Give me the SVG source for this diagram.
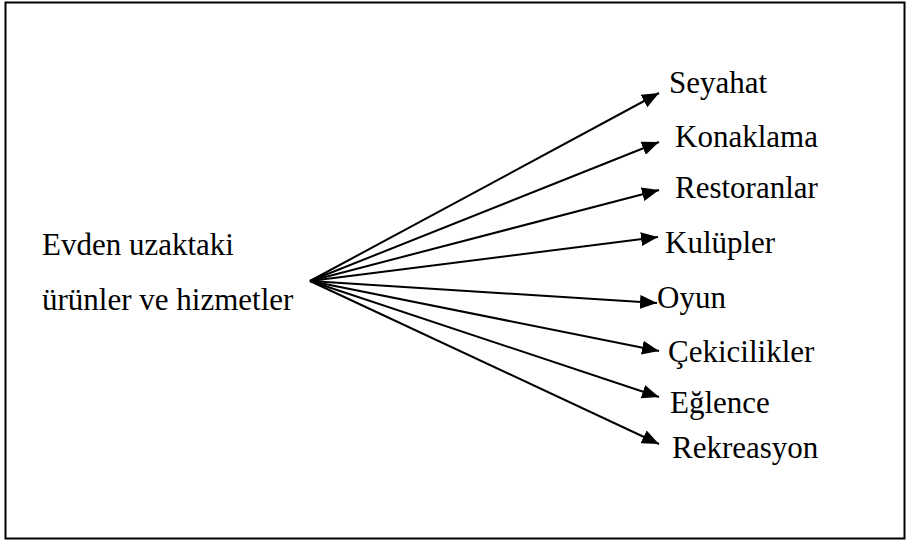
<svg xmlns="http://www.w3.org/2000/svg" width="907" height="541" viewBox="0 0 907 541">
  <defs>
    <marker id="arrow" markerUnits="userSpaceOnUse" markerWidth="18" markerHeight="14" viewBox="0 0 18 14" refX="17" refY="7" orient="auto">
      <path d="M0,0 L17,7 L0,14 Z" fill="#000"/>
    </marker>
  </defs>

  <!-- frame -->
  <rect x="5.5" y="2.5" width="899" height="536" fill="#fff" stroke="#000" stroke-width="2"/>

  <!-- connectors fanning out from one point -->
  <g id="connectors" stroke="#000" stroke-width="2" fill="none" marker-end="url(#arrow)">
    <line x1="310" y1="281" x2="659" y2="93"/>
    <line x1="310" y1="281" x2="659" y2="142"/>
    <line x1="310" y1="281" x2="659" y2="190"/>
    <line x1="310" y1="281" x2="658" y2="237"/>
    <line x1="310" y1="281" x2="657" y2="303"/>
    <line x1="310" y1="281" x2="659" y2="351"/>
    <line x1="310" y1="281" x2="659" y2="397"/>
    <line x1="310" y1="281" x2="659" y2="444"/>
  </g>

  <!-- source -->
  <g id="source">
    <text x="42" y="255" font-family="Liberation Serif" font-size="31">Evden uzaktaki</text>
    <text x="42" y="310" font-family="Liberation Serif" font-size="31">ürünler ve hizmetler</text>
  </g>

  <!-- targets -->
  <g id="seyahat"><text x="669" y="93" font-family="Liberation Serif" font-size="31">Seyahat</text></g>
  <g id="konaklama"><text x="675" y="147" font-family="Liberation Serif" font-size="31">Konaklama</text></g>
  <g id="restoranlar"><text x="675" y="198" font-family="Liberation Serif" font-size="31">Restoranlar</text></g>
  <g id="kulupler"><text x="665" y="253" font-family="Liberation Serif" font-size="31">Kulüpler</text></g>
  <g id="oyun"><text x="657" y="308" font-family="Liberation Serif" font-size="31">Oyun</text></g>
  <g id="cekicilikler"><text x="668" y="362" font-family="Liberation Serif" font-size="31">Çekicilikler</text></g>
  <g id="eglence"><text x="670" y="413" font-family="Liberation Serif" font-size="31">Eğlence</text></g>
  <g id="rekreasyon"><text x="672" y="458" font-family="Liberation Serif" font-size="31">Rekreasyon</text></g>
</svg>
